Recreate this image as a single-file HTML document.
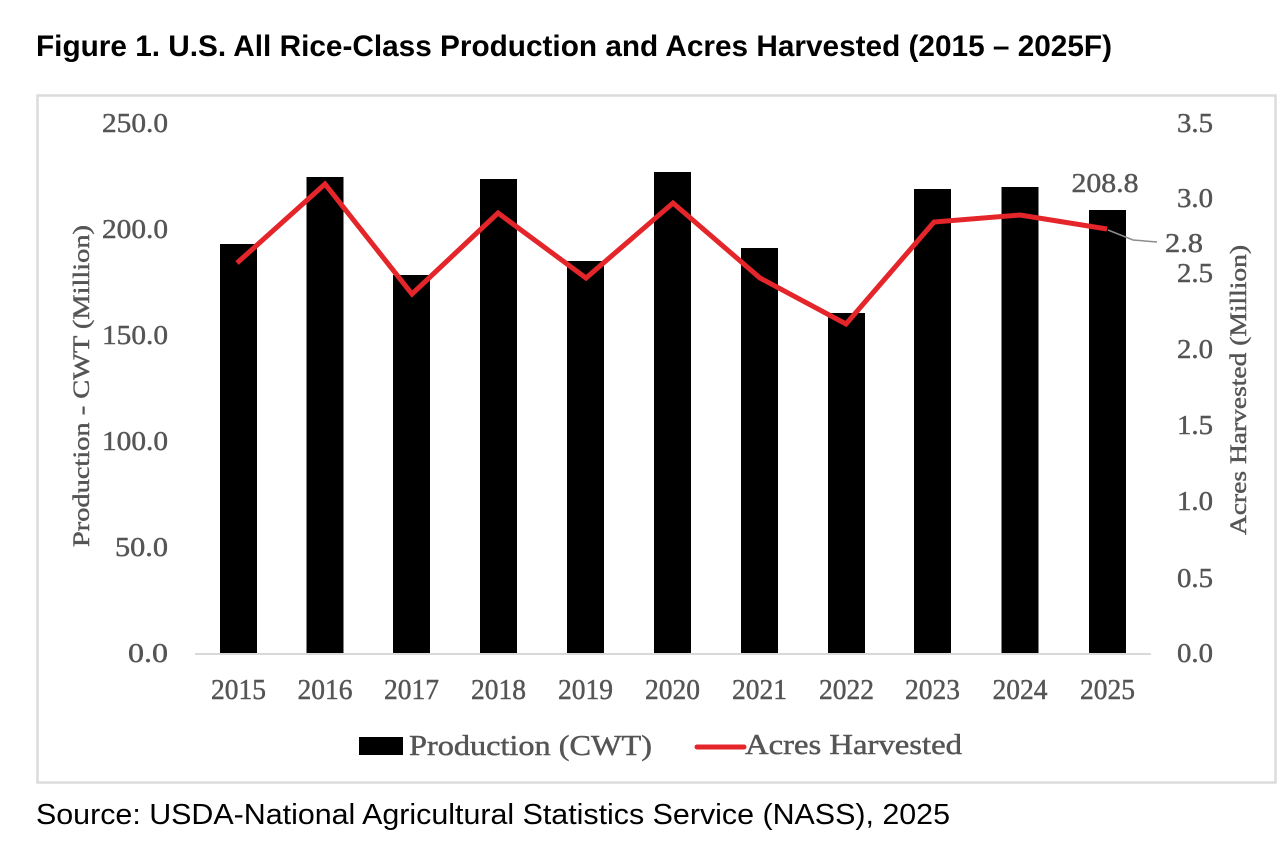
<!DOCTYPE html>
<html>
<head>
<meta charset="utf-8">
<style>
  html,body{margin:0;padding:0;background:#fff;}
  svg{display:block;}
  .t{font-family:"Liberation Serif",serif;fill:#555555;stroke:#555555;stroke-width:0.45;}
</style>
</head>
<body>
<svg width="1280" height="858" viewBox="0 0 1280 858" xmlns="http://www.w3.org/2000/svg">
  <rect x="0" y="0" width="1280" height="858" fill="#fff"/>
  <!-- Title -->
  <text x="36" y="56" font-family="Liberation Sans, sans-serif" font-weight="bold" font-size="30" fill="#000" textLength="1076" lengthAdjust="spacingAndGlyphs">Figure 1. U.S. All Rice-Class Production and Acres Harvested (2015 – 2025F)</text>

  <!-- Chart box -->
  <rect x="37.5" y="95.5" width="1238" height="687" fill="#fff" stroke="#dcdcdc" stroke-width="2.5"/>

  <!-- Left axis labels -->
  <g class="t" font-size="27" text-anchor="end">
    <text x="168" y="132" textLength="66" lengthAdjust="spacingAndGlyphs">250.0</text>
    <text x="168" y="238" textLength="66" lengthAdjust="spacingAndGlyphs">200.0</text>
    <text x="168" y="344" textLength="66" lengthAdjust="spacingAndGlyphs">150.0</text>
    <text x="168" y="450" textLength="66" lengthAdjust="spacingAndGlyphs">100.0</text>
    <text x="168" y="556" textLength="53" lengthAdjust="spacingAndGlyphs">50.0</text>
    <text x="168" y="662" textLength="40" lengthAdjust="spacingAndGlyphs">0.0</text>
  </g>

  <!-- Right axis labels -->
  <g class="t" font-size="27" text-anchor="start">
    <text x="1177" y="132" textLength="36" lengthAdjust="spacingAndGlyphs">3.5</text>
    <text x="1177" y="207" textLength="36" lengthAdjust="spacingAndGlyphs">3.0</text>
    <text x="1177" y="282" textLength="36" lengthAdjust="spacingAndGlyphs">2.5</text>
    <text x="1177" y="358" textLength="36" lengthAdjust="spacingAndGlyphs">2.0</text>
    <text x="1177" y="434" textLength="36" lengthAdjust="spacingAndGlyphs">1.5</text>
    <text x="1177" y="510" textLength="36" lengthAdjust="spacingAndGlyphs">1.0</text>
    <text x="1177" y="587" textLength="36" lengthAdjust="spacingAndGlyphs">0.5</text>
    <text x="1177" y="662" textLength="36" lengthAdjust="spacingAndGlyphs">0.0</text>
  </g>

  <!-- Axis titles -->
  <text class="t" font-size="23" text-anchor="middle" transform="translate(89,386) rotate(-90)" textLength="322" lengthAdjust="spacingAndGlyphs">Production - CWT (Million)</text>
  <text class="t" font-size="23" text-anchor="middle" transform="translate(1246,390) rotate(-90)" textLength="290" lengthAdjust="spacingAndGlyphs">Acres Harvested (Million)</text>

  <!-- Bars -->
  <g fill="#000">
    <rect x="220" y="244" width="37" height="409"/>
    <rect x="306.5" y="177" width="37" height="476"/>
    <rect x="393" y="275" width="37" height="378"/>
    <rect x="480" y="179" width="37" height="474"/>
    <rect x="567" y="261" width="37" height="392"/>
    <rect x="654" y="172" width="37" height="481"/>
    <rect x="741" y="248" width="37" height="405"/>
    <rect x="828" y="313" width="37" height="340"/>
    <rect x="914" y="189" width="37" height="464"/>
    <rect x="1001.5" y="187" width="37" height="466"/>
    <rect x="1089" y="210" width="37" height="443"/>
  </g>

  <!-- X axis line -->
  <line x1="195" y1="654" x2="1151" y2="654" stroke="#d9d9d9" stroke-width="2"/>

  <!-- Red line -->
  <polyline fill="none" stroke="#e4252a" stroke-width="5" stroke-linejoin="miter"
    points="237,263 325,184 412,294 498,213 586,278 673,203 760,278 846,324 934,222 1020,215 1107,229"/>

  <!-- Leader line and data labels -->
  <polyline fill="none" stroke="#8c8c8c" stroke-width="1.5" points="1108,230 1133,240 1157,242"/>
  <text class="t" font-size="27" x="1105" y="192" text-anchor="middle" textLength="67" lengthAdjust="spacingAndGlyphs">208.8</text>
  <text class="t" font-size="27" x="1165" y="252" textLength="38" lengthAdjust="spacingAndGlyphs">2.8</text>

  <!-- X labels -->
  <g class="t" font-size="28" text-anchor="middle">
    <text x="238.5" y="699" textLength="55" lengthAdjust="spacingAndGlyphs">2015</text>
    <text x="325" y="699" textLength="55" lengthAdjust="spacingAndGlyphs">2016</text>
    <text x="411.5" y="699" textLength="55" lengthAdjust="spacingAndGlyphs">2017</text>
    <text x="498.5" y="699" textLength="55" lengthAdjust="spacingAndGlyphs">2018</text>
    <text x="585.5" y="699" textLength="55" lengthAdjust="spacingAndGlyphs">2019</text>
    <text x="672.5" y="699" textLength="55" lengthAdjust="spacingAndGlyphs">2020</text>
    <text x="759.5" y="699" textLength="55" lengthAdjust="spacingAndGlyphs">2021</text>
    <text x="846.5" y="699" textLength="55" lengthAdjust="spacingAndGlyphs">2022</text>
    <text x="932.5" y="699" textLength="55" lengthAdjust="spacingAndGlyphs">2023</text>
    <text x="1020" y="699" textLength="55" lengthAdjust="spacingAndGlyphs">2024</text>
    <text x="1107.5" y="699" textLength="55" lengthAdjust="spacingAndGlyphs">2025</text>
  </g>

  <!-- Legend -->
  <rect x="359" y="737" width="44" height="18" fill="#000"/>
  <text class="t" font-size="28" x="409" y="755" textLength="243" lengthAdjust="spacingAndGlyphs">Production (CWT)</text>
  <line x1="697" y1="747" x2="744" y2="747" stroke="#e4252a" stroke-width="5" stroke-linecap="round"/>
  <text class="t" font-size="28" x="745" y="754" textLength="217" lengthAdjust="spacingAndGlyphs">Acres Harvested</text>

  <!-- Source -->
  <text x="36" y="824" font-family="Liberation Sans, sans-serif" font-size="29" fill="#000" textLength="914" lengthAdjust="spacingAndGlyphs">Source: USDA-National Agricultural Statistics Service (NASS), 2025</text>
</svg>
</body>
</html>
